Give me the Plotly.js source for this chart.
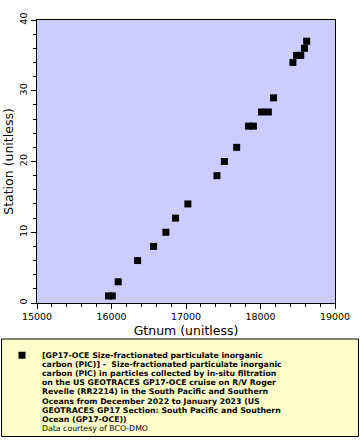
<!DOCTYPE html>
<html>
<head>
<meta charset="utf-8">
<script src="https://cdn.plot.ly/plotly-3.0.1.min.js"></script>
<style>html,body{margin:0;padding:0;background:#fff;}#chart{width:360px;height:440px;}</style>
</head>
<body>
<div id="chart"></div>
<script>
// Data
const gtnum = [15960, 16010, 16090, 16350, 16565, 16730, 16860, 17025, 17415, 17515, 17680, 17840, 17905, 18015, 18105, 18175, 18435, 18485, 18540, 18590, 18620];
const station = [1, 1, 3, 6, 8, 10, 12, 14, 18, 20, 22, 25, 25, 27, 27, 29, 34, 35, 35, 36, 37];
const xTitle = "Gtnum (unitless)";
const yTitle = "Station (unitless)";
const legendLines = [
  "[GP17-OCE Size-fractionated particulate inorganic",
  "carbon (PIC)] -  Size-fractionated particulate inorganic",
  "carbon (PIC) in particles collected by in-situ filtration",
  "on the US GEOTRACES GP17-OCE cruise on R/V Roger",
  "Revelle (RR2214) in the South Pacific and Southern",
  "Oceans from December 2022 to January 2023 (US",
  "GEOTRACES GP17 Section: South Pacific and Southern",
  "Ocean (GP17-OCE))"
];
const creditLine = "Data courtesy of BCO-DMO";

// layout geometry (pixels)
const L = 37, R = 25, T = 20, B = 137, W = 360, H = 440;
const pw = W - L - R, ph = H - T - B;
const px = x => (x - L) / pw;
const py = y => (H - B - y) / ph;

const legFont = {family: "DejaVu Sans", size: 7.8, color: "#000", weight: "bold"};
const line0 = 355.5, lineStep = 9.12;

const annotations = [];
legendLines.slice(1).forEach((t, i) => {
  annotations.push({
    xref: "paper", yref: "paper", x: px(42), y: py(line0 + lineStep * (i + 1)),
    xanchor: "left", yanchor: "middle", showarrow: false, text: t, font: legFont,
    borderpad: 0, borderwidth: 0
  });
});
annotations.push({
  xref: "paper", yref: "paper", x: px(42), y: py(line0 + lineStep * legendLines.length),
  xanchor: "left", yanchor: "middle", showarrow: false, text: creditLine,
  font: {family: "DejaVu Sans", size: 7.8, color: "#000"}, borderpad: 0, borderwidth: 0
});

const trace = {
  x: gtnum, y: station, type: "scatter", mode: "markers",
  name: legendLines[0],
  marker: {symbol: "square", size: 7, color: "#000", line: {width: 0}}
};

const axisCommon = {
  showgrid: false, zeroline: false, showline: true, linecolor: "#000", linewidth: 1, mirror: true,
  ticks: "outside", ticklen: 5, tickcolor: "#000", tickwidth: 1,
  tickfont: {family: "DejaVu Sans", size: 9.5, color: "#000"},
  automargin: false
};

const layout = {
  width: W, height: H,
  margin: {l: L, r: R, t: T, b: B, pad: 0, autoexpand: false},
  paper_bgcolor: "#fff", plot_bgcolor: "#ccccff",
  showlegend: true,
  legend: {
    x: px(2), y: py(340.8), xanchor: "left", yanchor: "top",
    bgcolor: "rgba(0,0,0,0)", borderwidth: 0, font: legFont, itemclick: false
  },
  xaxis: Object.assign({}, axisCommon, {
    range: [15000, 19000], dtick: 1000, tick0: 15000, tickformat: "d",
    minor: {dtick: 200, ticklen: 3, ticks: "outside", tickcolor: "#000"},
    title: {text: xTitle, font: {family: "DejaVu Sans", size: 12.5, color: "#000"}, standoff: 4}
  }),
  yaxis: Object.assign({}, axisCommon, {
    range: [0, 40], dtick: 10, tick0: 0, tickangle: -90, tickformat: "d", automargin: true,
    minor: {dtick: 2, ticklen: 3, ticks: "outside", tickcolor: "#000"},
    title: {text: yTitle, font: {family: "DejaVu Sans", size: 12.5, color: "#000"}, standoff: 1}
  }),
  shapes: [{
    type: "rect", xref: "paper", yref: "paper", layer: "below",
    x0: px(1.5), x1: px(358.5), y0: py(339), y1: py(436.5),
    fillcolor: "#ffffcc", line: {color: "#000", width: 1}
  }],
  annotations: annotations
};

Plotly.newPlot("chart", [trace], layout, {staticPlot: true, displayModeBar: false});
</script>
</body>
</html>
